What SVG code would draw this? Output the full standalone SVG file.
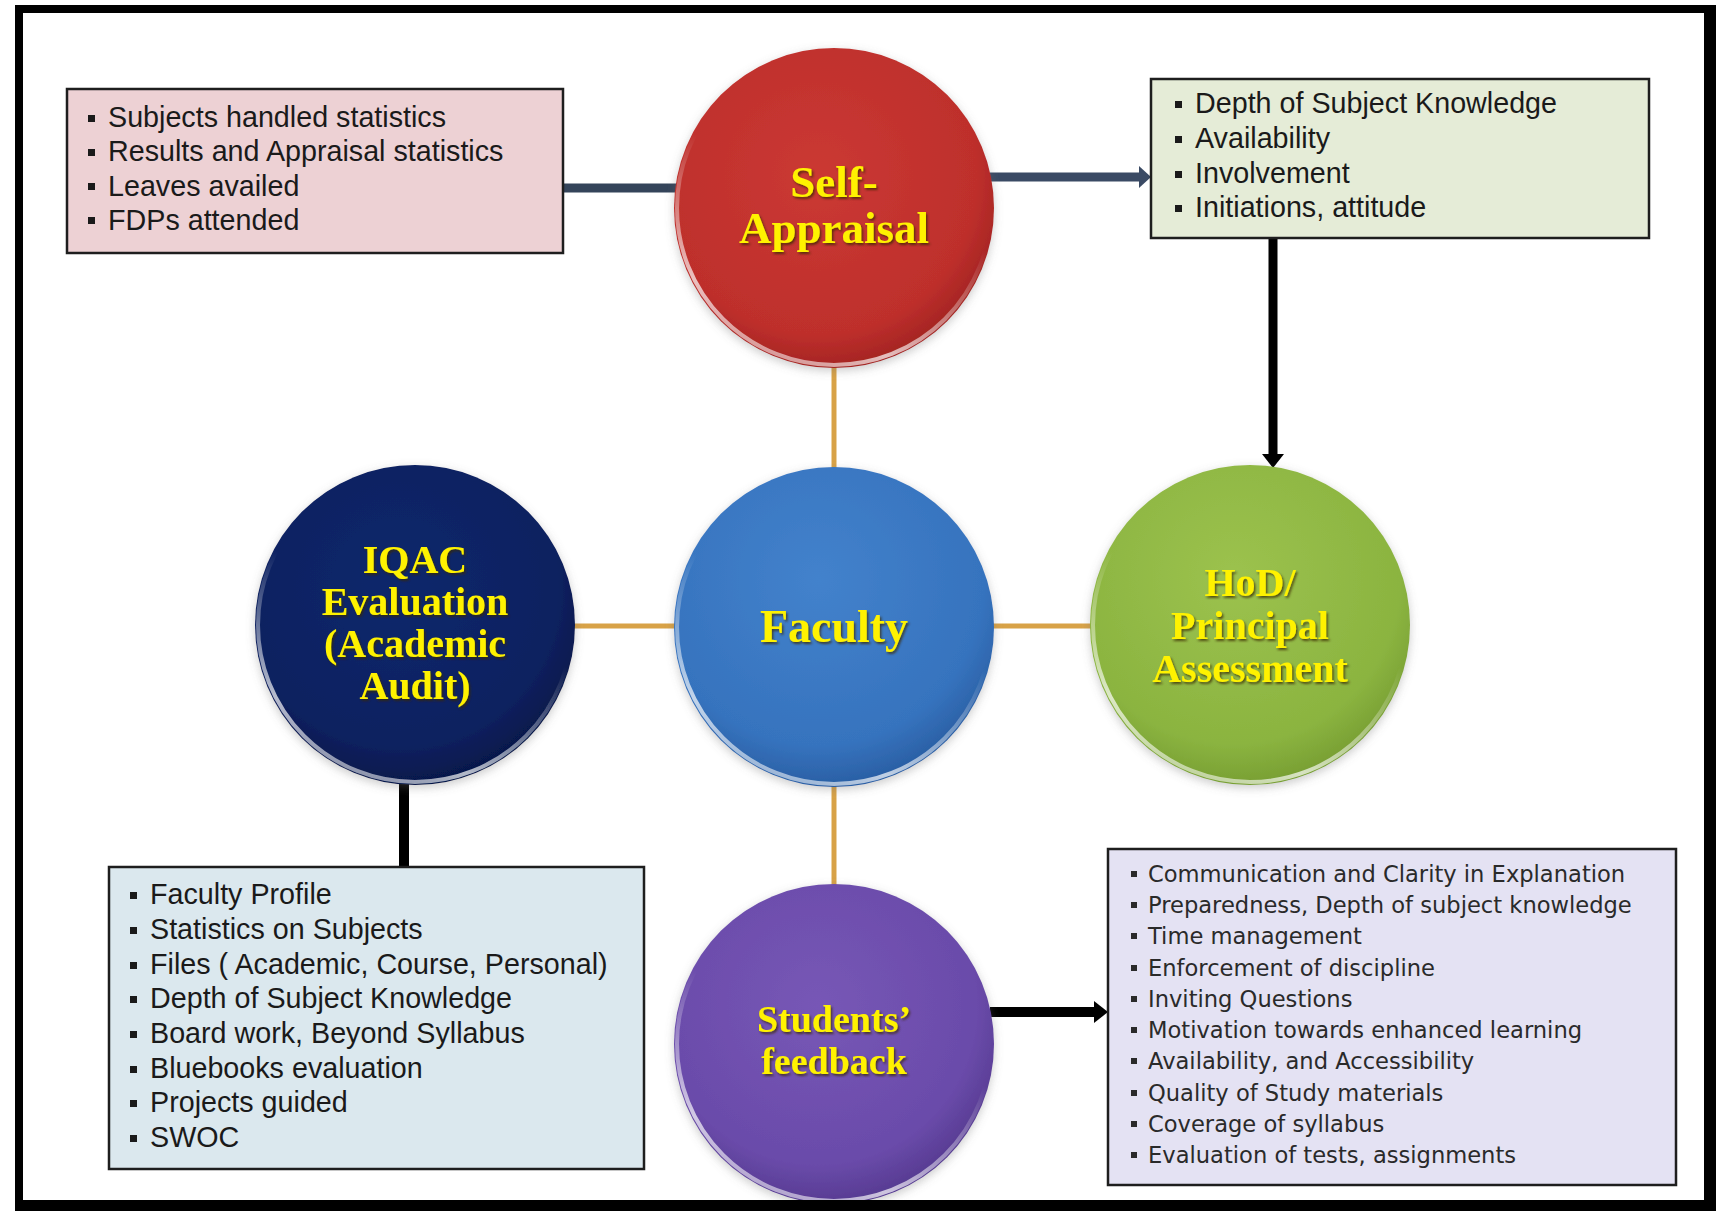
<svg xmlns="http://www.w3.org/2000/svg" width="1716" height="1211" viewBox="0 0 1716 1211">
<style>
.box{stroke:#1e1e1e;stroke-width:2.5}
.item{font-family:"Liberation Sans",Arial,sans-serif;font-size:28.7px;fill:#1a1a1a}
.item2{font-family:"DejaVu Sans",Verdana,sans-serif;font-size:22.6px;fill:#2a2a2a}
.title{font-family:"Liberation Serif","Times New Roman",serif;font-weight:bold;fill:#FFF200;text-anchor:middle;filter:url(#tshadow)}
.tan{stroke:#D8A247;stroke-width:5;fill:none}
.rim{fill:none;stroke:url(#rim);stroke-width:4}
</style>
<defs>
<filter id="tshadow" x="-10%" y="-10%" width="130%" height="130%">
<feDropShadow dx="1.5" dy="2" stdDeviation="1" flood-color="#3a2a00" flood-opacity="0.75"/>
</filter>
<filter id="cshadow" x="-15%" y="-15%" width="130%" height="135%">
<feDropShadow dx="0" dy="3" stdDeviation="5" flood-color="#6a6a6a" flood-opacity="0.35"/>
</filter>
<radialGradient id="gRed" cx="45%" cy="40%" r="62%">
<stop offset="0" stop-color="#CB3933"/><stop offset="0.8" stop-color="#BE2F2C"/><stop offset="1" stop-color="#A02321"/>
</radialGradient>
<radialGradient id="gBlue" cx="45%" cy="35%" r="65%">
<stop offset="0" stop-color="#4382CC"/><stop offset="0.8" stop-color="#3673BE"/><stop offset="1" stop-color="#2A5FA4"/>
</radialGradient>
<radialGradient id="gNavy" cx="45%" cy="38%" r="62%">
<stop offset="0" stop-color="#0E286C"/><stop offset="0.8" stop-color="#0A2160"/><stop offset="1" stop-color="#06184A"/>
</radialGradient>
<radialGradient id="gGreen" cx="45%" cy="35%" r="65%">
<stop offset="0" stop-color="#9CC24E"/><stop offset="0.8" stop-color="#8BB440"/><stop offset="1" stop-color="#789F33"/>
</radialGradient>
<radialGradient id="gPurple" cx="45%" cy="38%" r="62%">
<stop offset="0" stop-color="#7757B6"/><stop offset="0.8" stop-color="#6A4BAA"/><stop offset="1" stop-color="#573B92"/>
</radialGradient>
<linearGradient id="rim" x1="0.7" y1="0" x2="0.3" y2="1">
<stop offset="0.45" stop-color="#ffffff" stop-opacity="0"/>
<stop offset="0.85" stop-color="#ffffff" stop-opacity="0.7"/>
<stop offset="1" stop-color="#ffffff" stop-opacity="0.5"/>
</linearGradient>
<rect id="b" width="7" height="7" fill="#1a1a1a"/>
<rect id="b2" width="6" height="6" fill="#2a2a2a"/>
<marker id="hBlack" viewBox="0 0 14 22" refX="0" refY="11" markerWidth="14" markerHeight="22" markerUnits="userSpaceOnUse" orient="auto">
<path d="M0,0 L14,11 L0,22 Z" fill="#000"/>
</marker>
<marker id="hSlate" viewBox="0 0 12 22" refX="0" refY="11" markerWidth="12" markerHeight="22" markerUnits="userSpaceOnUse" orient="auto">
<path d="M0,0 L12,11 L0,22 Z" fill="#3A4A64"/>
</marker>
</defs>

<rect width="1716" height="1211" fill="#ffffff"/>

<g id="connectors">
<line class="tan" x1="834" y1="366" x2="834" y2="469"/>
<line class="tan" x1="834" y1="785" x2="834" y2="886"/>
<line class="tan" x1="573" y1="626" x2="676" y2="626"/>
<line class="tan" x1="992" y1="626" x2="1092" y2="626"/>
<line x1="563" y1="188" x2="680" y2="188" stroke="#34445A" stroke-width="9"/>
<line x1="990" y1="177" x2="1139" y2="177" stroke="#3A4A64" stroke-width="9" marker-end="url(#hSlate)"/>
<line x1="1273" y1="237" x2="1273" y2="454" stroke="#000" stroke-width="9" marker-end="url(#hBlack)"/>
<line x1="404" y1="867" x2="404" y2="780" stroke="#000" stroke-width="10"/>
<line x1="990" y1="1012" x2="1094" y2="1012" stroke="#000" stroke-width="10" marker-end="url(#hBlack)"/>
</g>

<g id="box-self-items">
<rect class="box" x="67" y="89" width="496" height="164" fill="#EDD1D4"/>
<use href="#b" x="88" y="115"/><text class="item" x="108" y="127">Subjects handled statistics</text>
<use href="#b" x="88" y="149"/><text class="item" x="108" y="161">Results and Appraisal statistics</text>
<use href="#b" x="88" y="183"/><text class="item" x="108" y="195.5">Leaves availed</text>
<use href="#b" x="88" y="217"/><text class="item" x="108" y="229.5">FDPs attended</text>
</g>

<g id="box-hod-items">
<rect class="box" x="1151" y="79" width="498" height="159" fill="#E5ECD7"/>
<use href="#b" x="1175" y="101"/><text class="item" x="1195" y="113">Depth of Subject Knowledge</text>
<use href="#b" x="1175" y="136"/><text class="item" x="1195" y="148">Availability</text>
<use href="#b" x="1175" y="171"/><text class="item" x="1195" y="183">Involvement</text>
<use href="#b" x="1175" y="205"/><text class="item" x="1195" y="217">Initiations, attitude</text>
</g>

<g id="box-iqac-items">
<rect class="box" x="109" y="867" width="535" height="302" fill="#DBE8EE"/>
<use href="#b" x="130" y="892"/><text class="item" x="150" y="904">Faculty Profile</text>
<use href="#b" x="130" y="927"/><text class="item" x="150" y="939">Statistics on Subjects</text>
<use href="#b" x="130" y="962"/><text class="item" x="150" y="974">Files ( Academic, Course, Personal)</text>
<use href="#b" x="130" y="996"/><text class="item" x="150" y="1008">Depth of Subject Knowledge</text>
<use href="#b" x="130" y="1031"/><text class="item" x="150" y="1043">Board work, Beyond Syllabus</text>
<use href="#b" x="130" y="1066"/><text class="item" x="150" y="1078">Bluebooks evaluation</text>
<use href="#b" x="130" y="1100"/><text class="item" x="150" y="1112">Projects guided</text>
<use href="#b" x="130" y="1135"/><text class="item" x="150" y="1147">SWOC</text>
</g>

<g id="box-students-items">
<rect class="box" x="1108" y="849" width="568" height="336" fill="#E4E2F3"/>
<use href="#b2" x="1131" y="871"/><text class="item2" x="1148" y="882">Communication and Clarity in Explanation</text>
<use href="#b2" x="1131" y="902"/><text class="item2" x="1148" y="913">Preparedness, Depth of subject knowledge</text>
<use href="#b2" x="1131" y="933"/><text class="item2" x="1148" y="944">Time management</text>
<use href="#b2" x="1131" y="965"/><text class="item2" x="1148" y="976">Enforcement of discipline</text>
<use href="#b2" x="1131" y="996"/><text class="item2" x="1148" y="1007">Inviting Questions</text>
<use href="#b2" x="1131" y="1027"/><text class="item2" x="1148" y="1038">Motivation towards enhanced learning</text>
<use href="#b2" x="1131" y="1058"/><text class="item2" x="1148" y="1069">Availability, and Accessibility</text>
<use href="#b2" x="1131" y="1090"/><text class="item2" x="1148" y="1101">Quality of Study materials</text>
<use href="#b2" x="1131" y="1121"/><text class="item2" x="1148" y="1132">Coverage of syllabus</text>
<use href="#b2" x="1131" y="1152"/><text class="item2" x="1148" y="1163">Evaluation of tests, assignments</text>
</g>

<g id="node-self-appraisal">
<circle cx="834" cy="208" r="160" fill="url(#gRed)" filter="url(#cshadow)"/>
<circle class="rim" cx="834" cy="208" r="157"/>
<text class="title" x="834" y="197" font-size="45">Self-</text>
<text class="title" x="834" y="243" font-size="45">Appraisal</text>
</g>

<g id="node-faculty">
<circle cx="834" cy="627" r="160" fill="url(#gBlue)" filter="url(#cshadow)"/>
<circle class="rim" cx="834" cy="627" r="157"/>
<text class="title" x="834" y="642" font-size="46">Faculty</text>
</g>

<g id="node-iqac">
<circle cx="415" cy="625" r="160" fill="url(#gNavy)" filter="url(#cshadow)"/>
<circle class="rim" cx="415" cy="625" r="157"/>
<text class="title" x="415" y="573" font-size="40">IQAC</text>
<text class="title" x="415" y="615" font-size="40">Evaluation</text>
<text class="title" x="415" y="657" font-size="40">(Academic</text>
<text class="title" x="415" y="699" font-size="40">Audit)</text>
</g>

<g id="node-hod">
<circle cx="1250" cy="625" r="160" fill="url(#gGreen)" filter="url(#cshadow)"/>
<circle class="rim" cx="1250" cy="625" r="157"/>
<text class="title" x="1250" y="596" font-size="40">HoD/</text>
<text class="title" x="1250" y="639" font-size="40">Principal</text>
<text class="title" x="1250" y="682" font-size="40">Assessment</text>
</g>

<g id="node-students">
<circle cx="834" cy="1044" r="160" fill="url(#gPurple)" filter="url(#cshadow)"/>
<circle class="rim" cx="834" cy="1044" r="157"/>
<text class="title" x="834" y="1032" font-size="38">Students’</text>
<text class="title" x="834" y="1074" font-size="38">feedback</text>
</g>

<path id="frame" d="M15,5 H1716 V1211 H15 Z M23,13 V1200 H1704 V13 Z" fill="#000" fill-rule="evenodd"/>
</svg>
